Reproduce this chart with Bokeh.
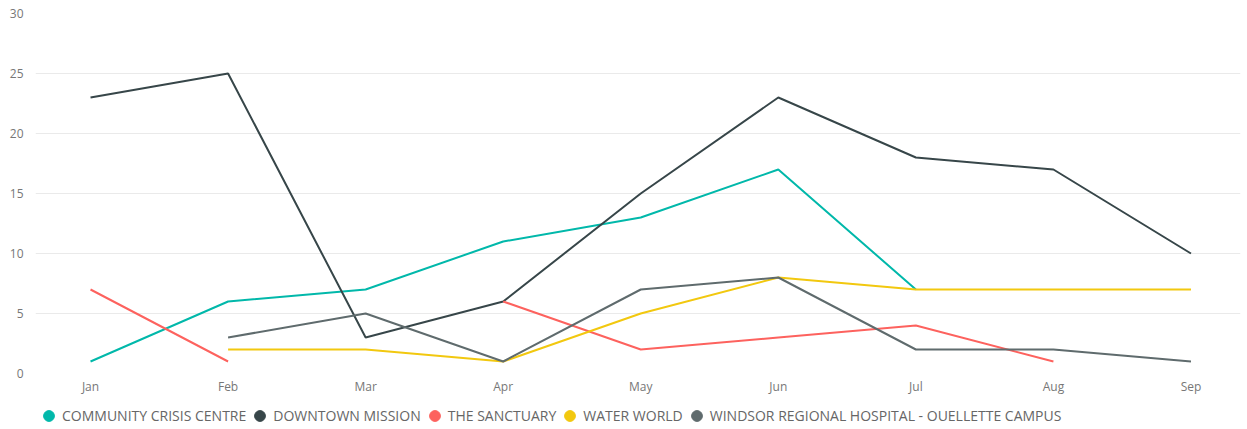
from bokeh.plotting import figure
from bokeh.layouts import column
from bokeh.models import Range1d, FixedTicker, Legend, LegendItem, ColumnDataSource
from bokeh.embed import file_html
from bokeh.resources import INLINE

months = ["Jan", "Feb", "Mar", "Apr", "May", "Jun", "Jul", "Aug", "Sep"]
nan = float("nan")
community_crisis_centre = [1, 6, 7, 11, 13, 17, 7, nan, nan]
downtown_mission = [23, 25, 3, 6, 15, 23, 18, 17, 10]
the_sanctuary = [7, 1, nan, 6, 2, 3, 4, 1, nan]
water_world = [nan, 2, 2, 1, 5, 8, 7, 7, 7]
windsor_regional = [nan, 3, 5, 1, 7, 8, 2, 2, 1]

series_names = ["COMMUNITY CRISIS CENTRE", "DOWNTOWN MISSION", "THE SANCTUARY",
                "WATER WORLD", "WINDSOR REGIONAL HOSPITAL - OUELLETTE CAMPUS"]
series_values = [community_crisis_centre, downtown_mission, the_sanctuary,
                 water_world, windsor_regional]
colors = ["#01B8AA", "#374649", "#FD625E", "#F2C80F", "#5F6B6D"]
y_ticks = [0, 5, 10, 15, 20, 25, 30]

FONT = "Open Sans"
x_idx = list(range(len(months)))

p = figure(width=1247, height=399, output_backend="svg", toolbar_location=None,
           x_range=Range1d(-0.4, 8.36), y_range=Range1d(0, 30),
           min_border_top=13, min_border_left=35, min_border_right=7,
           min_border_bottom=26)
p.outline_line_color = None
p.background_fill_color = "white"
p.border_fill_color = "white"

p.xgrid.visible = False
p.ygrid.grid_line_color = "#EAEAEA"
p.ygrid.grid_line_width = 1

p.yaxis.ticker = FixedTicker(ticks=y_ticks)
p.xaxis.ticker = FixedTicker(ticks=x_idx)
p.xaxis.major_label_overrides = {i: m for i, m in enumerate(months)}
for ax in (p.xaxis, p.yaxis):
    ax.axis_line_color = None
    ax.major_tick_line_color = None
    ax.minor_tick_line_color = None
    ax.major_tick_out = 0
    ax.major_tick_in = 0
    ax.minor_tick_out = 0
    ax.minor_tick_in = 0
    ax.major_label_text_color = "#777777"
    ax.major_label_text_font = FONT
    ax.major_label_text_font_size = "12px"
p.yaxis.major_label_standoff = 12
p.xaxis.major_label_standoff = 4

for name, vals, col in zip(series_names, series_values, colors):
    p.line(x_idx, vals, line_color=col, line_width=2)

# legend strip below the chart
lf = figure(width=1247, height=30, output_backend="svg", toolbar_location=None,
            x_range=Range1d(0, 1), y_range=Range1d(0, 1),
            x_axis_location=None, y_axis_location=None,
            min_border_top=0, min_border_left=0, min_border_right=0,
            min_border_bottom=0)
lf.grid.visible = False
lf.outline_line_color = None
items = []
for name, col in zip(series_names, colors):
    src = ColumnDataSource(dict(x=[nan], y=[nan]))
    r = lf.scatter("x", "y", source=src, size=11, marker="circle",
                   fill_color=col, line_color=col)
    items.append(LegendItem(label=name, renderers=[r]))

legend = Legend(items=items, orientation="horizontal", location=(0, 0),
                label_text_font=FONT, label_text_font_size="14px",
                label_text_color="#666666", spacing=0, padding=0, margin=0,
                glyph_width=27, glyph_height=27, label_standoff=0,
                border_line_color=None, background_fill_alpha=0)
lf.add_layout(legend, "center")

layout = column(p, lf, spacing=0)
open("out.html", "w").write(file_html(layout, INLINE))
